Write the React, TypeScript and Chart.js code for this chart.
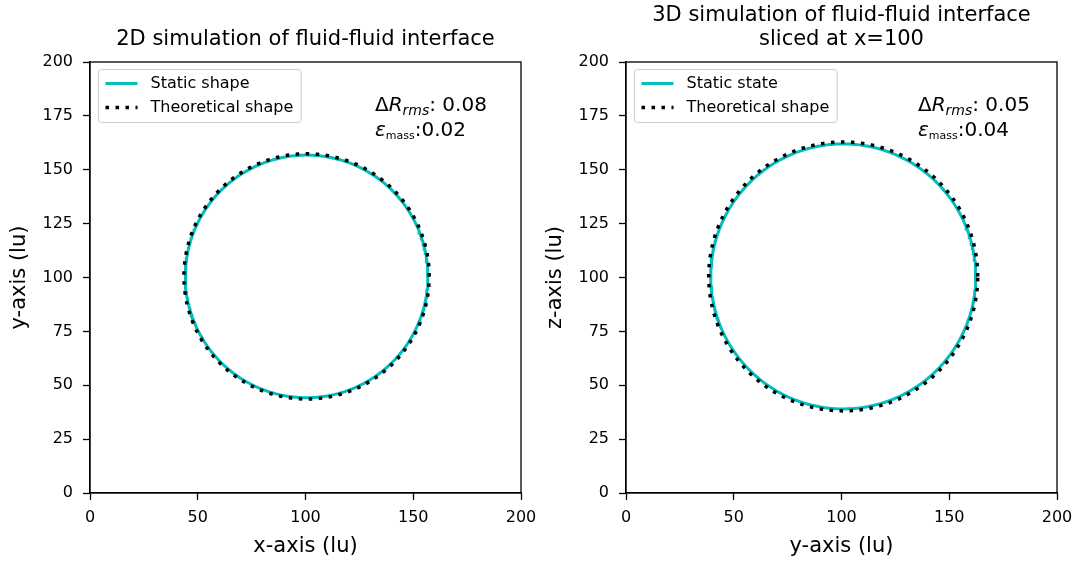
import React, { useEffect, useRef } from "react";
import { Chart, registerables } from "chart.js";

Chart.register(...registerables);

const FONT = "'DejaVu Sans', sans-serif";

// Axis ticks
const X_TICKS = [0, 50, 100, 150, 200];
const Y_TICKS = [0, 25, 50, 75, 100, 125, 150, 175, 200];

// Panel texts
const PANEL_TITLES = [
  ["2D simulation of fluid-fluid interface"],
  ["3D simulation of fluid-fluid interface", "sliced at x=100"],
];
const X_LABELS = ["x-axis (lu)", "y-axis (lu)"];
const Y_LABELS = ["y-axis (lu)", "z-axis (lu)"];
const STATIC_NAMES = ["Static shape", "Static state"];
const THEORY_NAMES = ["Theoretical shape", "Theoretical shape"];
const DR_RMS = ["0.08", "0.05"];
const EPS_MASS = ["0.02", "0.04"];

// Circle data (lattice units)
const CENTER_X = [100.5, 100.8];
const CENTER_Y = [100.5, 100.5];
const STATIC_RADII = [56.3, 61.5];
const THEORY_RADII = [56.9, 62.4];
const ANGLES_DEG = Array.from({ length: 361 }, (_, k) => k);

function circlePoints(cx: number, cy: number, r: number) {
  return ANGLES_DEG.map((a) => ({
    x: cx + r * Math.cos((a * Math.PI) / 180),
    y: cy + r * Math.sin((a * Math.PI) / 180),
  }));
}

const CANVAS_W = 538;
const CANVAS_H = 563;
const PLOT_LEFT = [90, 88];
const PLOT_SIZE = 431;
const PLOT_TOP = 62;
const CYAN = "#00bfbf";

function makeDecor(i: number) {
  return {
    id: "decor" + i,
    afterDatasetsDraw(chart: any) {
      const ctx = chart.ctx as CanvasRenderingContext2D;
      const ca = chart.chartArea;
      ctx.save();
      // Legend
      ctx.font = `16px ${FONT}`;
      const tw = Math.max(
        ctx.measureText(STATIC_NAMES[i]).width,
        ctx.measureText(THEORY_NAMES[i]).width
      );
      const bx = ca.left + 8.5;
      const by = ca.top + 7.5;
      const bw = 52 + tw + 8;
      const bh = 53;
      ctx.beginPath();
      (ctx as any).roundRect(bx, by, bw, bh, 3);
      ctx.fillStyle = "rgba(255,255,255,0.8)";
      ctx.fill();
      ctx.strokeStyle = "#cccccc";
      ctx.lineWidth = 1;
      ctx.stroke();
      const r1 = by + 14;
      const r2 = by + 38;
      ctx.lineCap = "butt";
      ctx.beginPath();
      ctx.strokeStyle = CYAN;
      ctx.lineWidth = 3;
      ctx.setLineDash([]);
      ctx.moveTo(bx + 7, r1);
      ctx.lineTo(bx + 39, r1);
      ctx.stroke();
      ctx.beginPath();
      ctx.strokeStyle = "#000";
      ctx.lineWidth = 3.5;
      ctx.setLineDash([3.5, 6.5]);
      ctx.moveTo(bx + 7, r2);
      ctx.lineTo(bx + 39, r2);
      ctx.stroke();
      ctx.setLineDash([]);
      ctx.fillStyle = "#000";
      ctx.textAlign = "left";
      ctx.textBaseline = "middle";
      ctx.fillText(STATIC_NAMES[i], bx + 52, r1);
      ctx.fillText(THEORY_NAMES[i], bx + 52, r2);

      // Annotation
      ctx.textBaseline = "alphabetic";
      const drawRuns = (x: number, y: number, runs: any[]) => {
        for (const r of runs) {
          ctx.font = r.font;
          ctx.fillText(r.text, x, y + (r.dy || 0));
          x += ctx.measureText(r.text).width;
        }
      };
      const ax = ca.left + (i === 0 ? 285 : 292);
      drawRuns(ax, ca.top + 49, [
        { text: "\u0394", font: `20px ${FONT}` },
        { text: "R", font: `italic 20px ${FONT}` },
        { text: "rms", font: `italic 14px ${FONT}`, dy: 4 },
        { text: ": " + DR_RMS[i], font: `20px ${FONT}` },
      ]);
      drawRuns(ax, ca.top + 74, [
        { text: "\u03b5", font: `italic 20px ${FONT}` },
        { text: "mass", font: `11px ${FONT}`, dy: 3 },
        { text: ":" + EPS_MASS[i], font: `20px ${FONT}` },
      ]);
      ctx.restore();
    },
    afterDraw(chart: any) {
      const ctx = chart.ctx as CanvasRenderingContext2D;
      const ca = chart.chartArea;
      ctx.save();
      ctx.strokeStyle = "#000";
      ctx.lineWidth = 1.3;
      ctx.strokeRect(ca.left, ca.top, ca.right - ca.left, ca.bottom - ca.top);
      ctx.fillStyle = "#000";
      ctx.font = `21px ${FONT}`;
      ctx.textAlign = "center";
      ctx.textBaseline = "middle";
      const cx = (ca.left + ca.right) / 2;
      const lines = PANEL_TITLES[i];
      const lastY = 40;
      lines.forEach((t, k) => {
        ctx.fillText(t, cx, lastY - (lines.length - 1 - k) * 24);
      });
      ctx.restore();
    },
  };
}

function Panel({ i }: { i: number }) {
  const ref = useRef<HTMLCanvasElement>(null);
  useEffect(() => {
    if (!ref.current) return;
    const left = PLOT_LEFT[i];
    const chart = new Chart(ref.current, {
      type: "scatter",
      data: {
        datasets: [
          {
            label: THEORY_NAMES[i],
            data: circlePoints(CENTER_X[i], CENTER_Y[i], THEORY_RADII[i]),
            showLine: true,
            borderColor: "#000",
            borderWidth: 3.5,
            borderDash: [3.5, 6.5],
            borderCapStyle: "butt",
            pointRadius: 0,
            fill: false,
            order: 1,
          },
          {
            label: STATIC_NAMES[i],
            data: circlePoints(CENTER_X[i], CENTER_Y[i], STATIC_RADII[i]),
            showLine: true,
            borderColor: CYAN,
            borderWidth: 3,
            pointRadius: 0,
            fill: false,
            order: 2,
          },
        ],
      },
      options: {
        responsive: false,
        animation: false,
        devicePixelRatio: 1,
        layout: {
          padding: {
            left: 0,
            top: PLOT_TOP,
            right: CANVAS_W - left - PLOT_SIZE,
            bottom: 0,
          },
        },
        plugins: {
          legend: { display: false },
          tooltip: { enabled: false },
          title: { display: false },
        },
        scales: {
          x: {
            type: "linear",
            min: 0,
            max: 200,
            afterBuildTicks: (s: any) => {
              s.ticks = X_TICKS.map((v) => ({ value: v }));
            },
            afterFit: (s: any) => {
              s.height = CANVAS_H - PLOT_TOP - PLOT_SIZE;
              s.paddingLeft = 0;
              s.paddingRight = 0;
            },
            grid: {
              drawOnChartArea: false,
              drawTicks: true,
              tickLength: 7,
              tickColor: "#000",
              tickWidth: 1.3,
            },
            border: { display: true, color: "#000", width: 1.3 },
            ticks: {
              color: "#000",
              font: { family: FONT, size: 16 },
              padding: 8,
              maxRotation: 0,
              autoSkip: false,
            },
            title: {
              display: true,
              text: X_LABELS[i],
              color: "#000",
              font: { family: FONT, size: 21 },
              padding: { top: 0, bottom: 4 },
            },
          },
          y: {
            type: "linear",
            min: 0,
            max: 200,
            afterBuildTicks: (s: any) => {
              s.ticks = Y_TICKS.map((v) => ({ value: v }));
            },
            afterFit: (s: any) => {
              s.width = left;
              s.paddingTop = 0;
              s.paddingBottom = 0;
            },
            grid: {
              drawOnChartArea: false,
              drawTicks: true,
              tickLength: 7,
              tickColor: "#000",
              tickWidth: 1.3,
            },
            border: { display: true, color: "#000", width: 1.3 },
            ticks: {
              color: "#000",
              font: { family: FONT, size: 16 },
              padding: 10,
              autoSkip: false,
            },
            title: {
              display: true,
              text: Y_LABELS[i],
              color: "#000",
              font: { family: FONT, size: 21 },
              padding: { top: i === 0 ? 7 : 5, bottom: 0 },
            },
          },
        },
      } as any,
      plugins: [makeDecor(i)],
    });
    return () => chart.destroy();
  }, [i]);
  return (
    <canvas
      ref={ref}
      width={CANVAS_W}
      height={CANVAS_H}
      style={{
        position: "absolute",
        left: i * CANVAS_W,
        top: 0,
        width: CANVAS_W,
        height: CANVAS_H,
      }}
    />
  );
}

export default function App() {
  return (
    <div
      style={{
        position: "fixed",
        left: 0,
        top: 0,
        width: 1076,
        height: 563,
        background: "#fff",
      }}
    >
      <Panel i={0} />
      <Panel i={1} />
    </div>
  );
}
